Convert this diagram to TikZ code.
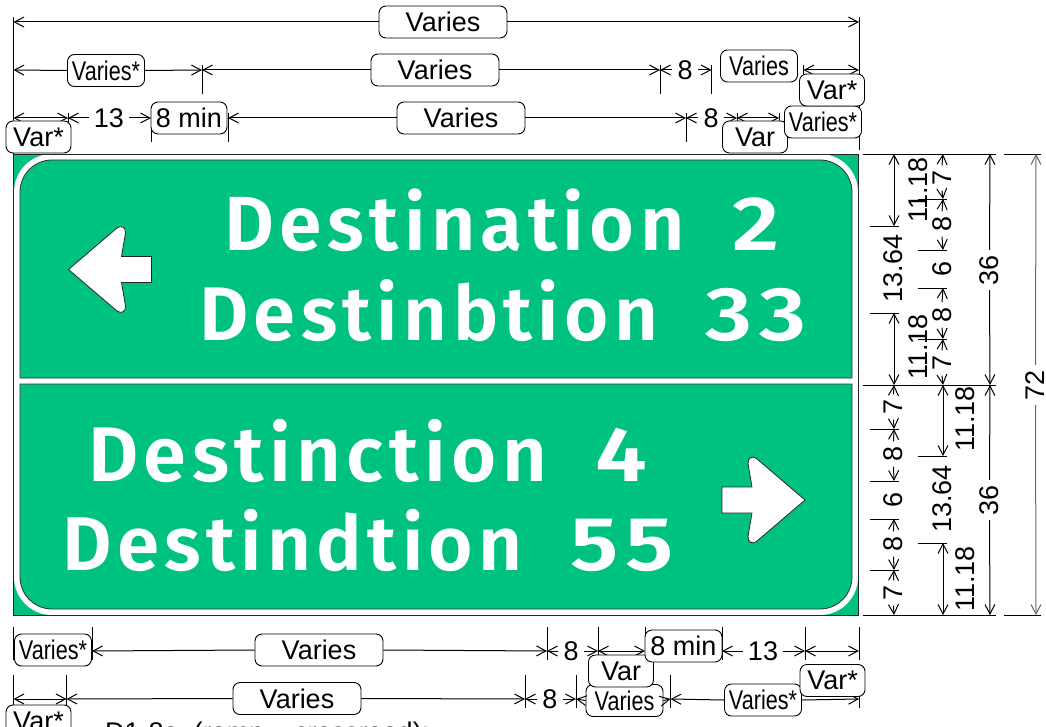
\documentclass[tikz,border=0pt]{standalone}
\usepackage{fontspec}
\usetikzlibrary{arrows.meta}
\setmainfont{Liberation Sans}
\newfontfamily\signfont[LetterSpace=7,WordSpace=2.0]{Fira Sans SemiBold}
\definecolor{signgreen}{RGB}{0,194,128}
\newcommand{\nar}[1]{\scalebox{.8}[1]{#1}}
\newcommand{\signtext}[3]{\resizebox{#1pt}{!}{\fontsize{76}{80}\signfont #2 \scalebox{1.2}[1]{#3}}}
\tikzset{
  every node/.style={font=\fontsize{27}{29}\selectfont},
  lab/.style={draw=black,line width=.9pt,fill=white,rounded corners=7,inner sep=0pt,minimum height=32pt},
  wide/.style={lab,minimum width=128pt},
  narrow/.style={lab,minimum width=77pt},
  short/.style={lab,minimum width=65pt},
  dimtext/.style={inner sep=5pt},
  vtext/.style={rotate=90,inner sep=5pt},
  plaintext/.style={rotate=90,inner sep=0pt},
  dim/.style={draw=black,line width=1pt,-{Straight Barb[length=9.5pt,width=10pt]}},
  dimb/.style={draw=black,line width=1pt,{Straight Barb[length=9.5pt,width=10pt]}-{Straight Barb[length=9.5pt,width=10pt]}},
  ext/.style={draw=black,line width=.9pt},
  panel/.style={fill=signgreen,draw=black!80,line width=.8pt},
  arrowshape/.style={fill=white,draw=black!85,line width=.8pt},
  signword/.style={text=white,inner sep=0pt,anchor=base west},
}
\begin{document}
\begin{tikzpicture}[x=1pt,y=-1pt]
\useasboundingbox (0,0) rectangle (1046,727);
% sign
\fill[signgreen] (13.5,154) rectangle (858.5,615);
\fill[white,rounded corners=38] (14,154) rectangle (858,615);
\draw[panel] (20,378) -- (20,192) .. controls (20,174.3) and (34.3,160) .. (52,160) -- (820,160) .. controls (837.7,160) and (852,174.3) .. (852,192) -- (852,378) -- cycle;
\draw[panel] (20,384) -- (20,577) .. controls (20,594.7) and (34.3,609) .. (52,609) -- (820,609) .. controls (837.7,609) and (852,594.7) .. (852,577) -- (852,384) -- cycle;
\draw[black!85,line width=.8pt] (13.5,154) rectangle (858.5,615);
\draw[arrowshape] (68.5,269.5) -- (117,228) .. controls (121,225) and (126,227) .. (125.5,233) -- (121.5,256.5) -- (151.5,256.5) -- (151.5,282.5) -- (121.5,282.5) -- (125.5,306) .. controls (126,312) and (121,314) .. (117,311) -- cycle;
\draw[arrowshape] (805,500) -- (756.5,458.5) .. controls (752.5,455.5) and (747.5,457.5) .. (748,463.5) -- (752,487) -- (722,487) -- (722,513) -- (752,513) -- (748,536.5) .. controls (747.5,542.5) and (752.5,544.5) .. (756.5,541.5) -- cycle;
\node[signword] (s1) at (224,250.5) {\signtext{556}{Destination}{2}};
\node[signword] (s2) at (199,340) {\signtext{607}{Destinbtion}{33}};
\node[signword] (s3) at (88,481) {\signtext{559}{Destinction}{4}};
\node[signword] (s4) at (62,570.5) {\signtext{611}{Destindtion}{55}};

% extension lines (top)
\coordinate (L1) at (13.5,22); \coordinate (R1) at (859,22);
\draw[ext] (13.5,17) -- (13.5,154);
\draw[ext] (859,17) -- (859,150);
\coordinate (L2) at (13.5,70); \coordinate (T2a) at (202,70); \coordinate (T2b) at (660,70);
\coordinate (T2c) at (711.5,70); \coordinate (T2d) at (803.5,70); \coordinate (R2) at (859,70);
\draw[ext] (202,65) -- (202,94);
\draw[ext] (660,65) -- (660,94);
\draw[ext] (711.5,65) -- (711.5,94);
\draw[ext] (803.5,65) -- (803.5,76);
\coordinate (L3) at (13.5,118); \coordinate (T3a) at (68,118); \coordinate (T3b) at (151,118);
\coordinate (T3c) at (228,118); \coordinate (T3d) at (686,118); \coordinate (T3e) at (737,118); \coordinate (T3f) at (779,118);
\draw[ext] (68,113) -- (68,124);
\draw[ext] (151,130) -- (151,142);
\draw[ext] (228,113) -- (228,142);
\draw[ext] (686,113) -- (686,142);
\draw[ext] (737,113) -- (737,124);
\draw[ext] (779,113) -- (779,122);

% row 1
\node[wide] (v1) at (443,22) {Varies};
\draw[dim] (v1.west) -- (L1);
\draw[dim] (v1.east) -- (R1);
% row 2
\node[narrow] (v2a) at (106,70.5) {\nar{Varies*}};
\node[wide] (v2b) at (435,70) {Varies};
\node[dimtext] (n2) at (685,70) {8};
\node[narrow] (v2c) at (759,66) {\nar{Varies}};
\draw[dim] (v2a.west) -- (L2);
\draw[dim] (v2a.east) -- (T2a);
\draw[dim] (v2b.west) -- (T2a);
\draw[dim] (v2b.east) -- (T2b);
\draw[dim] (n2.west) -- (T2b);
\draw[dim] (n2.east) -- (T2c);
\draw[dimb] (T2d) -- (R2);
% row 3
\node[wide] (v3a) at (461,118) {Varies};
\node[dimtext] (n13) at (109,118) {13};
\node[lab,minimum width=76pt] (m1) at (189,118) {8 min};
\node[dimtext] (n3) at (711,118) {8};
\draw[dimb] (L3) -- (T3a);
\draw[dim] (n13.west) -- (T3a);
\draw[dim] (n13.east) -- (T3b);
\draw[dim] (v3a.west) -- (T3c);
\draw[dim] (v3a.east) -- (T3d);
\draw[dim] (n3.west) -- (T3d);
\draw[dim] (n3.east) -- (T3e);
\draw[dimb] (T3e) -- (T3f);
\node[short] (va1) at (38.5,137) {Var*};
\node[short] (va2) at (755,137) {Var};
\node[narrow] (v3b) at (823,122) {\nar{Varies*}};
\node[short] (va3) at (832,90) {Var*};

% right horizontal ticks
\draw[ext] (863,154) -- (996,154);
\draw[ext] (1004,154) -- (1041,154);
\draw[ext] (863,385) -- (996,385);
\draw[ext] (863,615) -- (996,615);
\draw[ext] (1004,615) -- (1041,615);
\draw[ext] (870,226) -- (899,226);
\draw[ext] (870,313) -- (899,313);
\draw[ext] (918,199) -- (947,199);
\draw[ext] (918,250) -- (947,250);
\draw[ext] (918,288) -- (947,288);
\draw[ext] (918,339) -- (947,339);
\draw[ext] (870,429) -- (899,429);
\draw[ext] (870,481) -- (899,481);
\draw[ext] (870,519) -- (899,519);
\draw[ext] (870,570) -- (899,570);
\draw[ext] (918,456) -- (947,456);
\draw[ext] (918,543) -- (947,543);

% column 894 top
\coordinate (a0) at (894,154); \coordinate (a1) at (894,226); \coordinate (a2) at (894,313); \coordinate (a3) at (894,385);
\node[plaintext] (c1364a) at (893.5,268.5) {13.64};
\draw[dimb] (a0) -- (a1);
\draw[dimb] (a2) -- (a3);
\node[plaintext] (c1118a) at (918,190) {11.18};
\node[plaintext] (c1118b) at (918,347) {11.18};
% column 943 top
\coordinate (b0) at (943,154); \coordinate (b1) at (943,199); \coordinate (b2) at (943,250);
\coordinate (b3) at (943,288); \coordinate (b4) at (943,339); \coordinate (b5) at (943,385);
\node[vtext] (d7a) at (942,178) {7};
\node[vtext] (d8a) at (942,224) {8};
\node[plaintext] (d6a) at (942,269) {6};
\node[vtext] (d8b) at (942,315) {8};
\node[vtext] (d7b) at (942,363) {7};
\draw[dim] (d7a.east) -- (b0);
\draw[dim] (d7a.west) -- (b1);
\draw[dim] (d8a.east) -- (b1);
\draw[dim] (d8a.west) -- (b2);
\draw[dim] (d8b.east) -- (b3);
\draw[dim] (d8b.west) -- (b4);
\draw[dim] (d7b.east) -- (b4);
\draw[dim] (d7b.west) -- (b5);
% column 990
\coordinate (e0) at (990,154); \coordinate (e1) at (990,385); \coordinate (e2) at (990,615);
\node[vtext] (d36a) at (989.5,270) {36};
\node[vtext] (d36b) at (989.5,500) {36};
\draw[dim] (d36a.east) -- (e0);
\draw[dim] (d36a.west) -- (e1);
\draw[dim] (d36b.east) -- (e1);
\draw[dim] (d36b.west) -- (e2);
% column 1036
\coordinate (f0) at (1036,154); \coordinate (f1) at (1036,615);
\node[vtext] (d72) at (1035.5,385) {72};
\draw[dim,draw=black!60] (d72.east) -- (f0);
\draw[dim,draw=black!60] (d72.west) -- (f1);
% lower column 894
\coordinate (g0) at (894,385); \coordinate (g1) at (894,429); \coordinate (g2) at (894,481);
\coordinate (g3) at (894,519); \coordinate (g4) at (894,570); \coordinate (g5) at (894,615);
\node[vtext] (h7a) at (893.5,407) {7};
\node[vtext] (h8a) at (893.5,454) {8};
\node[plaintext] (h6a) at (893.5,500) {6};
\node[vtext] (h8b) at (893.5,544) {8};
\node[vtext] (h7b) at (893.5,593) {7};
\draw[dim] (h7a.east) -- (g0);
\draw[dim] (h7a.west) -- (g1);
\draw[dim] (h8a.east) -- (g1);
\draw[dim] (h8a.west) -- (g2);
\draw[dim] (h8b.east) -- (g3);
\draw[dim] (h8b.west) -- (g4);
\draw[dim] (h7b.east) -- (g4);
\draw[dim] (h7b.west) -- (g5);
% lower column 943
\coordinate (k0) at (943,385); \coordinate (k1) at (943,456); \coordinate (k2) at (943,543); \coordinate (k3) at (943,615);
\draw[dimb] (k0) -- (k1);
\draw[dimb] (k2) -- (k3);
\node[plaintext] (k1364) at (942,499) {13.64};
\node[plaintext] (k1118a) at (965,419) {11.18};
\node[plaintext] (k1118b) at (965,579) {11.18};

% bottom ticks
\draw[ext] (13.5,627) -- (13.5,660);
\draw[ext] (92,627) -- (92,660);
\draw[ext] (547,627) -- (547,660);
\draw[ext] (598,627) -- (598,660);
\draw[ext] (645,627) -- (645,660);
\draw[ext] (722,627) -- (722,660);
\draw[ext] (805,627) -- (805,660);
\draw[ext] (859,627) -- (859,660);
\draw[ext] (13.5,675) -- (13.5,708);
\draw[ext] (66.5,675) -- (66.5,708);
\draw[ext] (525,675) -- (525,708);
\draw[ext] (576,675) -- (576,708);
\draw[ext] (670.5,675) -- (670.5,708);
\draw[ext] (859,685) -- (859,708);
% bottom row 1
\coordinate (p1) at (92,651); \coordinate (p2) at (547,651); \coordinate (p3) at (598,651);
\coordinate (p4) at (645,651); \coordinate (p5) at (722,651); \coordinate (p6) at (805,651); \coordinate (p7) at (859,651);
\node[narrow] (w1) at (53,650) {\nar{Varies*}};
\node[wide] (w2) at (319,650) {Varies};
\node[dimtext] (w8) at (571,651) {8};
\node[dimtext] (w13) at (763,651) {13};
\draw[dim] (w2.west) -- (p1);
\draw[dim] (w2.east) -- (p2);
\draw[dim] (w8.west) -- (p2);
\draw[dim] (w8.east) -- (p3);
\draw[dimb] (p3) -- (p4);
\draw[dim] (w13.west) -- (p5);
\draw[dim] (w13.east) -- (p6);
\draw[dimb] (p6) -- (p7);
% bottom row 2
\coordinate (q1) at (13.5,699); \coordinate (q2) at (66.5,699); \coordinate (q3) at (525,699);
\coordinate (q4) at (576,699); \coordinate (q6) at (670.5,699); \coordinate (q7) at (859,699);
\node[wide] (x2) at (297,698.5) {Varies};
\node[dimtext] (x8) at (550,699) {8};
\node[narrow] (x3) at (624.5,700.5) {\nar{Varies}};
\node[narrow] (x4) at (763,700) {\nar{Varies*}};
\draw[dimb] (q1) -- (q2);
\draw[dim] (x2.west) -- (q2);
\draw[dim] (x2.east) -- (q3);
\draw[dim] (x8.west) -- (q3);
\draw[dim] (x8.east) -- (q4);
\draw[dim] (x3.west) -- (q4);
\draw[dim] (x3.east) -- (q6);
\draw[dim] (x4.west) -- (q6);
\draw[dim] (x4.east) -- (q7);
\node[short] (x5) at (621,671) {Var};
\node[lab,minimum width=77pt] (m2) at (683.5,646) {8 min};
\node[short] (x6) at (832.5,680.5) {Var*};
\node[short] (x7) at (38.5,721) {Var*};
\node[inner sep=0pt,anchor=base west] (cap) at (105,741) {D1-8a\ \ (ramp -- crossroad):};
\end{tikzpicture}
\end{document}
